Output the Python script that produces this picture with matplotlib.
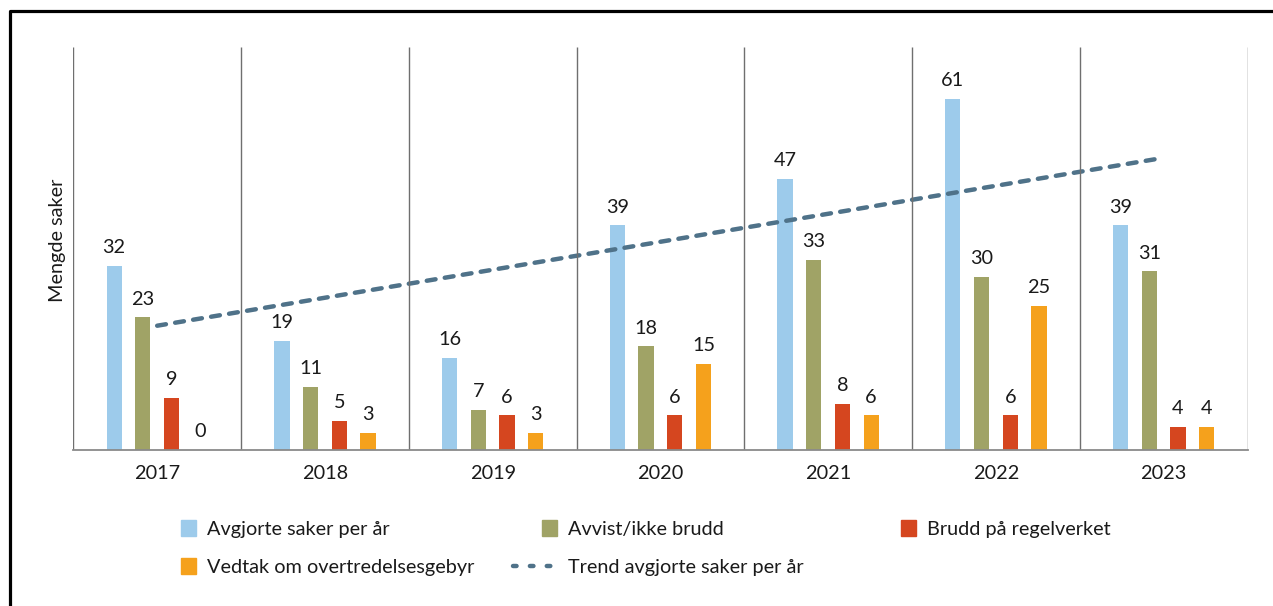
import numpy as np
import matplotlib
matplotlib.use("Agg")
import matplotlib.pyplot as plt
from matplotlib.patches import Patch, Rectangle
from matplotlib.lines import Line2D
from matplotlib.legend_handler import HandlerPatch

plt.rcParams['font.family'] = ['Lato', 'DejaVu Sans']

years = ["2017", "2018", "2019", "2020", "2021", "2022", "2023"]
avgjorte = [32, 19, 16, 39, 47, 61, 39]
avvist = [23, 11, 7, 18, 33, 30, 31]
brudd = [9, 5, 6, 6, 8, 6, 4]
vedtak = [0, 3, 3, 15, 6, 25, 4]

series_names = ["Avgjorte saker per år", "Avvist/ikke brudd",
                "Brudd på regelverket", "Vedtak om overtredelsesgebyr"]
trend_name = "Trend avgjorte saker per år"
colors = ["#9DCBEB", "#A0A366", "#D5461F", "#F5A11C"]
trend_color = "#4F7289"
txt = "#1a1a1a"
fs = 14.3

fig = plt.figure(figsize=(12.73, 6.06), dpi=100)
ax = fig.add_axes([73.3 / 1273, (606 - 450) / 606,
                   (1247.5 - 73.3) / 1273, (450 - 46.7) / 606])

x = np.arange(len(years))
offsets = np.array([-1.5, -0.5, 0.5, 1.5]) * 0.171
width = 0.091

for vals, off, c in zip([avgjorte, avvist, brudd, vedtak], offsets, colors):
    ax.bar(x + off, vals, width, color=c)
    for xi, v in zip(x + off, vals):
        ax.annotate(str(v), (xi, v), xytext=(0, 7), textcoords="offset points",
                    ha="center", va="bottom", fontsize=fs, color=txt)

# linear trend of avgjorte saker
k, m = np.polyfit(x, avgjorte, 1)
ax.plot([x[0], x[-1]], [k * x[0] + m, k * x[-1] + m], color=trend_color,
        lw=3.2, linestyle=(0, (2, 2.1)), dash_capstyle="round")

ax.vlines(np.arange(-0.5, len(years)), 0, 70, color="#6f6f6f", lw=1)
ax.set_xlim(-0.5, len(years) - 0.5)
ax.set_ylim(0, 70)
for s in ["top", "right", "left"]:
    ax.spines[s].set_visible(False)
ax.spines["bottom"].set_color("#8a8a8a")
ax.spines["bottom"].set_linewidth(1.3)
ax.set_yticks([])
ax.set_xticks(x)
ax.set_xticklabels(years, fontsize=fs, color=txt)
ax.tick_params(axis="x", length=0, pad=11)

fig.text(58 / 1273, (606 - 240) / 606, "Mengde saker", rotation=90,
         ha="center", va="center", fontsize=fs, color=txt)


def right_square(legend, orig_handle, xdescent, ydescent, width, height, fontsize):
    s = 11.2
    return Rectangle((-xdescent + width - s, -ydescent + (height - s) / 2), s, s)


hmap = {Patch: HandlerPatch(patch_func=right_square)}
leg_kw = dict(loc="upper left", frameon=False, fontsize=fs, handlelength=2.22,
              handletextpad=0.56, labelspacing=1.05, borderpad=0, borderaxespad=0,
              handler_map=hmap, labelcolor=txt)
top = (606 - 521) / 606

h = [Patch(color=c) for c in colors]
trend_h = Line2D([], [], color=trend_color, lw=3.2, linestyle=(0, (0.8, 3.0)),
                 dash_capstyle="round")

fig.legend(handles=[h[0], h[3]], labels=[series_names[0], series_names[3]],
           bbox_to_anchor=(152 / 1273, top), **leg_kw)
fig.legend(handles=[h[1], trend_h], labels=[series_names[1], trend_name],
           bbox_to_anchor=(513 / 1273, top), **leg_kw)
fig.legend(handles=[h[2]], labels=[series_names[2]],
           bbox_to_anchor=(872 / 1273, top), **leg_kw)

# frame lines (top and left)
fig.add_artist(Line2D([9.7 / 1273, 9.7 / 1273, 1], [0, (606 - 10.7) / 606, (606 - 10.7) / 606],
                      transform=fig.transFigure, color="black", lw=2.3))

fig.savefig("out.png", dpi=100)
